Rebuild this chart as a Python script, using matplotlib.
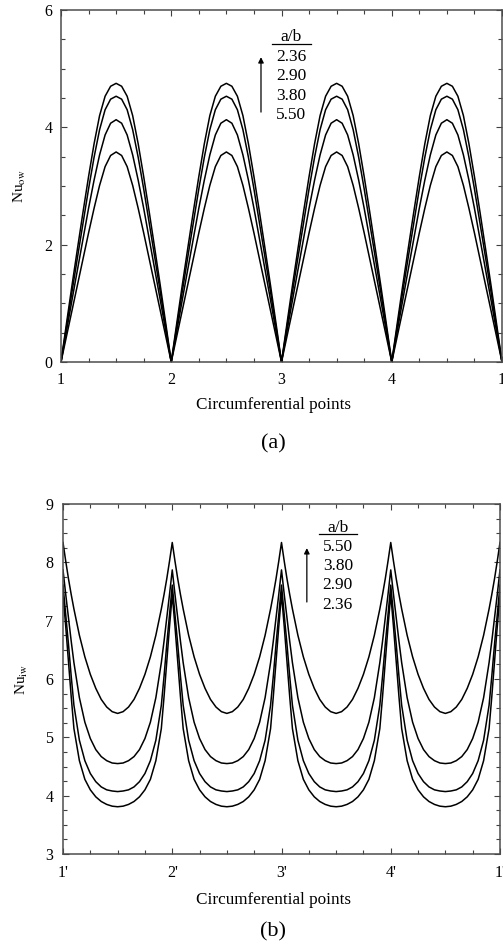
import numpy as np
import matplotlib
matplotlib.use("Agg")
import matplotlib.pyplot as plt
from matplotlib.ticker import MultipleLocator, FixedLocator, FixedFormatter

plt.rcParams['font.family'] = ['Liberation Serif', 'DejaVu Serif']
plt.rcParams['mathtext.fontset'] = 'stix'

# ---------------- data ----------------
# panel (a): half-period profile, t measured from integer point (0 .. 0.5)
t_a = [0, 0.05, 0.10, 0.15, 0.20, 0.25, 0.30, 0.35, 0.40, 0.45, 0.50]
ab_a = ['2.36', '2.90', '3.80', '5.50']
nu_ow_236 = [0, 0.66, 1.31, 1.94, 2.56, 3.16, 3.72, 4.20, 4.53, 4.70, 4.75]
nu_ow_290 = [0, 0.60, 1.20, 1.79, 2.37, 2.95, 3.49, 3.96, 4.30, 4.48, 4.53]
nu_ow_380 = [0, 0.53, 1.06, 1.58, 2.10, 2.62, 3.10, 3.53, 3.87, 4.07, 4.13]
nu_ow_550 = [0, 0.44, 0.88, 1.32, 1.76, 2.20, 2.62, 3.01, 3.33, 3.52, 3.58]

# panel (b): half-period profile, d measured from integer point (0 .. 0.5)
d_b = [0, 0.025, 0.05, 0.075, 0.10, 0.15, 0.20, 0.25, 0.30, 0.35, 0.40, 0.45, 0.50]
ab_b = ['5.50', '3.80', '2.90', '2.36']
nu_iw_550 = [8.34, 8.02, 7.72, 7.45, 7.20, 6.75, 6.38, 6.08, 5.84, 5.65, 5.52, 5.44, 5.41]
nu_iw_380 = [7.87, 7.45, 7.05, 6.65, 6.28, 5.68, 5.26, 4.98, 4.79, 4.67, 4.60, 4.56, 4.55]
nu_iw_290 = [7.61, 7.10, 6.60, 6.05, 5.55, 4.95, 4.60, 4.38, 4.24, 4.15, 4.10, 4.08, 4.07]
nu_iw_236 = [7.45, 6.90, 6.30, 5.70, 5.15, 4.60, 4.28, 4.10, 3.98, 3.90, 3.85, 3.82, 3.81]

periods = [1, 2, 3, 4]
xticks_a = [1, 2, 3, 4, 5]
xticklabels_a = ['1', '2', '3', '4', '1']
xticklabels_b = ["1'", "2'", "3'", "4'", "1'"]


def build(half_x, half_y):
    hx = np.asarray(half_x, float)
    hy = np.asarray(half_y, float)
    px = np.concatenate([hx, 1 - hx[::-1][1:]])
    py = np.concatenate([hy, hy[::-1][1:]])
    xs, ys = [], []
    for k in periods:
        xs.append(k + px[:-1] if k != periods[-1] else k + px)
        ys.append(py[:-1] if k != periods[-1] else py)
    return np.concatenate(xs), np.concatenate(ys)


W, H = 503, 949
fig = plt.figure(figsize=(W / 100, H / 100), dpi=100)

ax_a = fig.add_axes([61 / W, 1 - 362 / H, 441 / W, 352 / H])
ax_b = fig.add_axes([63 / W, 1 - 854 / H, 437 / W, 350 / H])

for vals in [nu_ow_236, nu_ow_290, nu_ow_380, nu_ow_550]:
    x, y = build(t_a, vals)
    ax_a.plot(x, y, color='black', lw=1.1)

for vals in [nu_iw_550, nu_iw_380, nu_iw_290, nu_iw_236]:
    x, y = build(d_b, vals)
    ax_b.plot(x, y, color='black', lw=1.1)


def style(ax, ylim, ymaj, ymin, xlabels, xpad, ypad):
    ax.set_xlim(1, 5)
    ax.set_ylim(*ylim)
    ax.xaxis.set_major_locator(FixedLocator(xticks_a))
    ax.xaxis.set_major_formatter(FixedFormatter(xlabels))
    ax.xaxis.set_minor_locator(MultipleLocator(0.25))
    ax.yaxis.set_major_locator(MultipleLocator(ymaj))
    ax.yaxis.set_minor_locator(MultipleLocator(ymin))
    ax.tick_params(which='both', direction='in', top=True, right=True,
                   width=0.8, color='0.25')
    ax.tick_params(which='major', length=4, labelsize=11.5)
    ax.tick_params(which='minor', length=3)
    ax.tick_params(axis='x', pad=xpad)
    ax.tick_params(axis='y', pad=ypad)
    for s in ax.spines.values():
        s.set_linewidth(1.1)
        s.set_color('0.3')


style(ax_a, (0, 6), 2, 0.5, xticklabels_a, 7, 6)
style(ax_b, (3, 9), 1, 0.25, xticklabels_b, 8, 7)

ax_a.set_ylabel('Nu$_{\\mathrm{ow}}$', fontsize=11, va='center')
ax_a.yaxis.set_label_coords(-0.093, 0.5)
ax_b.set_ylabel('Nu$_{\\mathrm{iw}}$', fontsize=11, va='center')
ax_b.yaxis.set_label_coords(-0.094, 0.5)

fig.text(273 / W, 1 - 405 / H, 'Circumferential points', ha='center', va='center', fontsize=12.3)
fig.text(273 / W, 1 - 900 / H, 'Circumferential points', ha='center', va='center', fontsize=12.3)
fig.text(273 / W, 1 - 444 / H, '(a)', ha='center', va='center', fontsize=16)
fig.text(273 / W, 1 - 932 / H, '(b)', ha='center', va='center', fontsize=16)


def legend_block(ax, xc, y_title, y_line, x_line, y_vals, labels, x_arrow, y_arrow):
    ax.text(xc, y_title, 'a/b', transform=ax.transAxes, ha='center', va='center', fontsize=12.5)
    ax.plot(x_line, [y_line, y_line], transform=ax.transAxes, color='black', lw=0.9,
            clip_on=False)
    for yy, lab in zip(y_vals, labels):
        ax.text(xc, yy, lab, transform=ax.transAxes, ha='center', va='center', fontsize=12.5)
    ax.annotate('', xy=(x_arrow, y_arrow[1]), xytext=(x_arrow, y_arrow[0]),
                xycoords='axes fraction', textcoords='axes fraction',
                arrowprops=dict(arrowstyle='-|>', lw=0.9, color='black',
                                mutation_scale=8, shrinkA=0, shrinkB=0))


legend_block(ax_a, 0.5215, 0.923, 0.903, [0.478, 0.567],
             [0.866, 0.8125, 0.756, 0.702], ab_a, 0.4535, (0.710, 0.866))
legend_block(ax_b, 0.629, 0.931, 0.914, [0.586, 0.673],
             [0.877, 0.823, 0.769, 0.711], ab_b, 0.558, (0.720, 0.874))

fig.savefig('out.png', dpi=100)
